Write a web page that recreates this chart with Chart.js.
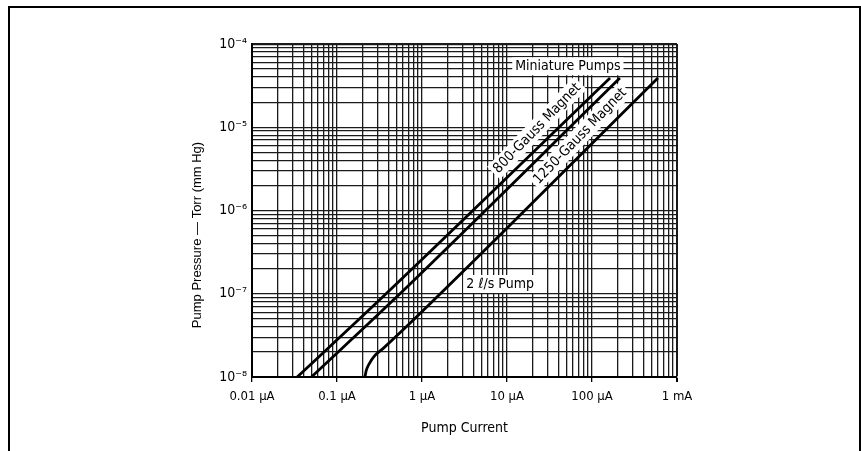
<!DOCTYPE html>
<html><head><meta charset="utf-8">
<script src="https://cdn.jsdelivr.net/npm/chart.js@4.4.0/dist/chart.umd.min.js"></script>
<style>
html,body{margin:0;padding:0;background:#fff;overflow:hidden}
#wrap{position:relative;width:861px;height:451px}
#frame{position:absolute;left:8px;top:6px;width:853px;height:470px;border:2.5px solid #000;border-bottom:none;box-sizing:border-box;pointer-events:none}
canvas{position:absolute;left:0;top:0}
</style></head><body>
<div id="wrap"><canvas id="c" width="861" height="451"></canvas><div id="frame"></div></div>
<script>
// ---- data ----
const xTickValues = [1e-8, 1e-7, 1e-6, 1e-5, 1e-4, 1e-3];
const xTickLabels = ['0.01 µA', '0.1 µA', '1 µA', '10 µA', '100 µA', '1 mA'];
const yTickValues = [1e-8, 1e-7, 1e-6, 1e-5, 1e-4];
const yTickLabels = ['10⁻⁸', '10⁻⁷', '10⁻⁶', '10⁻⁵', '10⁻⁴'];

const gauss800Current  = [3.4e-8, 3.16e-7, 1.63e-4];
const gauss800Pressure = [1e-8, 8.4e-8, 3.9e-5];
const gauss1250Current  = [5.0e-8, 4.6e-7, 2.13e-4];
const gauss1250Pressure = [1e-8, 8.4e-8, 3.9e-5];
const pump2Current  = [2.13e-7, 2.21e-7, 2.4e-7, 2.75e-7, 3.55e-7, 5.5e-7, 5.97e-4];
const pump2Pressure = [1e-8, 1.2e-8, 1.45e-8, 1.78e-8, 2.24e-8, 3.39e-8, 3.91e-5];

const labelTexts    = ['Miniature Pumps', '800-Gauss Magnet', '1250-Gauss Magnet', '2 ℓ/s Pump'];
const labelCurrent  = [5.2e-5, 2.25e-5, 7.2e-5, 8.3e-6];
const labelPressure = [5.4e-5, 9.8e-6, 7.85e-6, 1.31e-7];
const labelAngles   = [0, -46, -46, 0];

const xTitle = 'Pump Current';
const yTitle = 'Pump Pressure — Torr (mm Hg)';

// ---- helpers ----
const FONT = '"DejaVu Sans Condensed", "Liberation Sans Narrow", "Liberation Sans", sans-serif';
const isMajor = v => Math.abs(Math.log10(v) - Math.round(Math.log10(v))) < 1e-6;
function logTicks(majors) {
  const out = [];
  for (let i = 0; i < majors.length - 1; i++) {
    for (let m = 1; m <= 9; m++) out.push({ value: m * majors[i] });
  }
  out.push({ value: majors[majors.length - 1] });
  return out;
}
function majorLabel(values, labels, v) {
  if (!isMajor(v)) return '';
  const e = Math.round(Math.log10(v));
  const idx = values.findIndex(t => Math.round(Math.log10(t)) === e);
  return idx >= 0 ? labels[idx] : '';
}
const pts = (xs, ys) => xs.map((x, i) => ({ x, y: ys[i] }));

const labelPlugin = {
  id: 'labels',
  afterDatasetsDraw(chart) {
    const ctx = chart.ctx, xs = chart.scales.x, ys = chart.scales.y;
    ctx.save();
    ctx.font = '14px ' + FONT;
    ctx.textAlign = 'center';
    ctx.textBaseline = 'middle';
    labelTexts.forEach((t, i) => {
      const px = xs.getPixelForValue(labelCurrent[i]);
      const py = ys.getPixelForValue(labelPressure[i]);
      ctx.save();
      ctx.translate(px, py);
      ctx.rotate(labelAngles[i] * Math.PI / 180);
      const w = ctx.measureText(t).width;
      ctx.fillStyle = '#fff';
      ctx.fillRect(-w / 2 - 3, -9, w + 6, 18);
      ctx.fillStyle = '#000';
      ctx.fillText(t, 0, 0.5);
      ctx.restore();
    });
    // y axis title
    ctx.save();
    ctx.translate(197, 235);
    ctx.rotate(-Math.PI / 2);
    ctx.font = '13px "Liberation Sans", sans-serif';
    ctx.fillStyle = '#000';
    ctx.fillText(yTitle, 0, 0);
    ctx.restore();
    ctx.restore();
  }
};

const lineStyle = { borderColor: '#000', borderWidth: 2.8, pointRadius: 0, showLine: true, fill: false, cubicInterpolationMode: 'monotone' };

new Chart(document.getElementById('c'), {
  type: 'scatter',
  data: {
    datasets: [
      Object.assign({ label: '800-Gauss Magnet', data: pts(gauss800Current, gauss800Pressure) }, lineStyle),
      Object.assign({ label: '1250-Gauss Magnet', data: pts(gauss1250Current, gauss1250Pressure) }, lineStyle),
      Object.assign({ label: '2 ℓ/s Pump', data: pts(pump2Current, pump2Pressure) }, lineStyle)
    ]
  },
  options: {
    responsive: false,
    animation: false,
    devicePixelRatio: 1,
    layout: { padding: { left: 192, top: 44, right: 184, bottom: 10 } },
    plugins: { legend: { display: false }, tooltip: { enabled: false } },
    scales: {
      x: {
        type: 'logarithmic',
        min: xTickValues[0], max: xTickValues[xTickValues.length - 1],
        afterBuildTicks: s => { s.ticks = logTicks(xTickValues); },
        afterFit: s => { s.height = 64; },
        ticks: {
          autoSkip: false, maxRotation: 0, minRotation: 0, padding: 7,
          color: '#000', font: { family: FONT, size: 13 },
          callback: v => majorLabel(xTickValues, xTickLabels, v)
        },
        grid: {
          color: '#1a1a1a',
          lineWidth: c => (c.tick && (c.tick.value >= 0.99e-3)) ? 2 : 1.3,
          tickLength: 5,
          tickColor: c => (c.tick && isMajor(c.tick.value)) ? '#000' : 'rgba(0,0,0,0)'
        },
        border: { color: '#000', width: 2 },
        title: { display: true, text: xTitle, color: '#000', font: { family: FONT, size: 14 }, padding: { top: 4, bottom: 4 } }
      },
      y: {
        type: 'logarithmic',
        min: yTickValues[0], max: yTickValues[yTickValues.length - 1],
        afterBuildTicks: s => { s.ticks = logTicks(yTickValues); },
        afterFit: s => { s.width = 60; },
        ticks: {
          autoSkip: false, padding: 5,
          color: '#000', font: { family: FONT, size: 14 },
          callback: v => majorLabel(yTickValues, yTickLabels, v)
        },
        grid: {
          color: '#1a1a1a',
          lineWidth: c => (c.tick && (c.tick.value >= 0.99e-4)) ? 2.2 : 1.3,
          drawTicks: false
        },
        border: { color: '#000', width: 2 }
      }
    }
  },
  plugins: [labelPlugin]
});
</script>
</body></html>
